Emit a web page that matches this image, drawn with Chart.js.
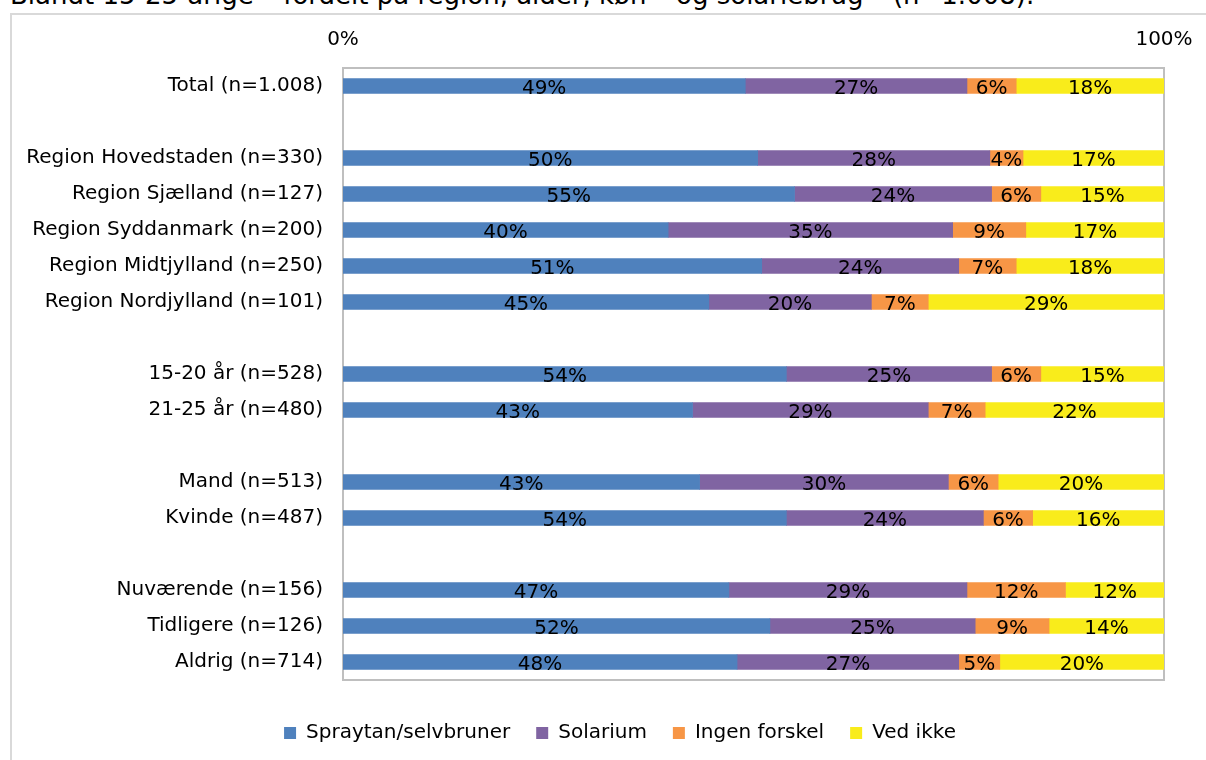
<!DOCTYPE html>
<html>
<head>
<meta charset="utf-8">
<script src="https://cdn.jsdelivr.net/npm/chart.js@4"></script>
<style>
  html, body { margin: 0; padding: 0; background: #fff; overflow: hidden; }
  #wrap { position: relative; width: 1206px; height: 760px; }
  #title { position: absolute; left: 10px; top: -20px; font: 26px "DejaVu Sans", sans-serif; line-height: normal; color: #000; white-space: nowrap; }
  #frame { position: absolute; left: 10px; top: 13px; width: 1300px; height: 900px; border: 2px solid #D9D9D9; box-sizing: border-box; }
  canvas { position: absolute; left: 0; top: 0; }
</style>
</head>
<body>
<div id="wrap">
  <div id="title">Blandt 15-25-årige – fordelt på region, alder, køn – og solariebrug – (n=1.008).</div>
  <div id="frame"></div>
  <canvas id="chart" width="1206" height="760"></canvas>
</div>
<script>
// categories (empty strings are the spacer rows)
const categories = [
    'Total (n=1.008)', '',
    'Region Hovedstaden (n=330)', 'Region Sjælland (n=127)', 'Region Syddanmark (n=200)',
    'Region Midtjylland (n=250)', 'Region Nordjylland (n=101)', '',
    '15-20 år (n=528)', '21-25 år (n=480)', '',
    'Mand (n=513)', 'Kvinde (n=487)', '',
    'Nuværende (n=156)', 'Tidligere (n=126)', 'Aldrig (n=714)'
];
const seriesNames = ['Spraytan/selvbruner', 'Solarium', 'Ingen forskel', 'Ved ikke'];
const spraytan = [49, null, 50, 55, 40, 51, 45, null, 54, 43, null, 43, 54, null, 47, 52, 48];
const solarium = [27, null, 28, 24, 35, 24, 20, null, 25, 29, null, 30, 24, null, 29, 25, 27];
const ingenForskel = [6, null, 4, 6, 9, 7, 7, null, 6, 7, null, 6, 6, null, 12, 9, 5];
const vedIkke = [18, null, 17, 15, 17, 18, 29, null, 15, 22, null, 20, 16, null, 12, 14, 20];
const xTicks = [0, 100];

const colors = ['#4F81BD', '#8064A2', '#F79646', '#F9EC1B'];
const allSeries = [spraytan, solarium, ingenForskel, vedIkke];

// 100% stacked: normalise each row to its sum
const rowSums = categories.map((c, i) => allSeries.reduce((s, arr) => s + (arr[i] || 0), 0));
const datasets = allSeries.map((arr, k) => ({
    label: seriesNames[k],
    data: arr.map((v, i) => v === null ? null : v / rowSums[i] * 100),
    raw: arr,
    backgroundColor: colors[k],
    borderWidth: 0,
    barThickness: 15
}));

const FONT = '"DejaVu Sans", sans-serif';

// labels in the middle of each segment
const barLabels = {
    id: 'barLabels',
    afterDatasetsDraw(chart) {
        const ctx = chart.ctx;
        ctx.save();
        ctx.font = '20px ' + FONT;
        ctx.fillStyle = '#000';
        ctx.textAlign = 'center';
        ctx.textBaseline = 'middle';
        chart.data.datasets.forEach((ds, di) => {
            chart.getDatasetMeta(di).data.forEach((bar, i) => {
                const v = ds.raw[i];
                if (v === null) return;
                ctx.fillText(v + '%', (bar.x + bar.base) / 2, bar.y + 3);
            });
        });
        ctx.restore();
    }
};

// grey box around plot area
const plotBox = {
    id: 'plotBox',
    beforeDatasetsDraw(chart) {
        const a = chart.chartArea;
        const ctx = chart.ctx;
        ctx.save();
        ctx.strokeStyle = '#BFBFBF';
        ctx.lineWidth = 2;
        ctx.strokeRect(a.left, a.top, a.right - a.left, a.bottom - a.top);
        ctx.restore();
    }
};

// move the legend a bit lower and to the right of where chart.js puts it
const legendShift = {
    id: 'legendShift',
    afterLayout(chart) {
        if (chart.legend) {
            chart.legend.top += 17;
            chart.legend.bottom += 17;
            chart.legend.left += 38;
            chart.legend.right += 38;
        }
    }
};

new Chart(document.getElementById('chart'), {
    type: 'bar',
    data: { labels: categories, datasets: datasets },
    options: {
        indexAxis: 'y',
        responsive: false,
        animation: false,
        layout: { padding: { top: 0, right: 42, bottom: 24, left: 0 } },
        scales: {
            x: {
                position: 'top',
                stacked: true,
                min: 0,
                max: 100,
                afterBuildTicks: (scale) => { scale.ticks = xTicks.map(v => ({ value: v })); },
                afterFit: (scale) => {
                    scale.height = 68;
                    scale.paddingLeft = 0;
                    scale.paddingRight = 0;
                },
                grid: { display: false, drawTicks: false },
                border: { display: false },
                ticks: {
                    padding: 16,
                    color: '#000',
                    font: { family: FONT, size: 20 },
                    callback: (v) => v + '%'
                }
            },
            y: {
                stacked: true,
                afterFit: (scale) => { scale.width = 343; },
                grid: { display: false, drawTicks: false },
                border: { display: false },
                ticks: {
                    padding: 20,
                    autoSkip: false,
                    color: '#000',
                    font: { family: FONT, size: 20 }
                }
            }
        },
        plugins: {
            legend: {
                position: 'bottom',
                labels: {
                    boxWidth: 12,
                    boxHeight: 12,
                    padding: 26,
                    color: '#000',
                    font: { family: FONT, size: 20 }
                }
            },
            tooltip: { enabled: false }
        }
    },
    plugins: [plotBox, barLabels, legendShift]
});
</script>
</body>
</html>
